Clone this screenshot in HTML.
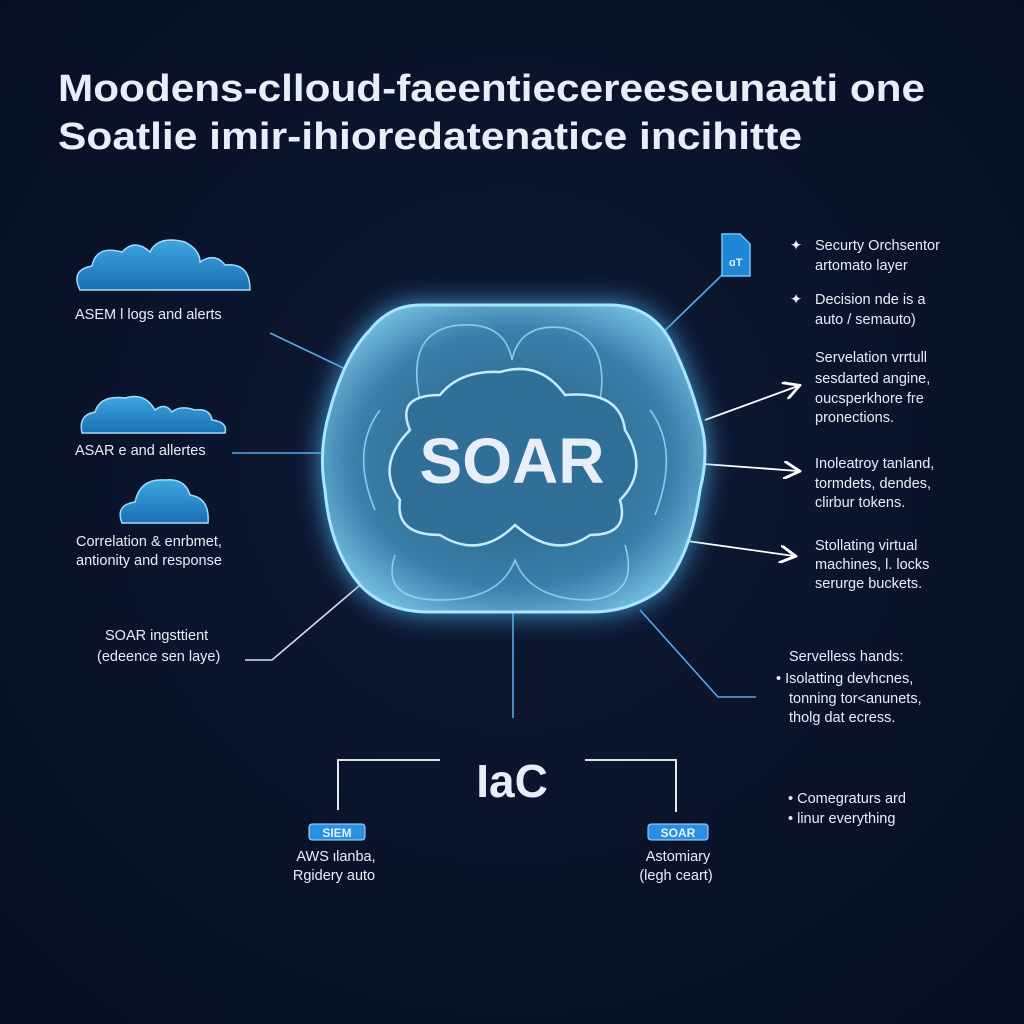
<!DOCTYPE html>
<html><head><meta charset="utf-8"><style>
html,body{margin:0;padding:0;background:#0a1430;}
svg{display:block}
text{font-family:"Liberation Sans",sans-serif;fill:#e8eef8}
</style></head><body>
<svg width="1024" height="1024" viewBox="0 0 1024 1024" xmlns="http://www.w3.org/2000/svg">
<defs>
<radialGradient id="bg" cx="50%" cy="45%" r="70%"><stop offset="0" stop-color="#0e1a36"/><stop offset="1" stop-color="#070e22"/></radialGradient>
<radialGradient id="blob" cx="50%" cy="50%" r="60%"><stop offset="0" stop-color="#245a80"/><stop offset="0.7" stop-color="#3a80aa"/><stop offset="1" stop-color="#7cc6ea"/></radialGradient>
<filter id="glow" x="-30%" y="-30%" width="160%" height="160%"><feGaussianBlur stdDeviation="14"/></filter>
<linearGradient id="cl" x1="0" y1="0" x2="0" y2="1"><stop offset="0" stop-color="#3ea6e0"/><stop offset="1" stop-color="#1b6fb3"/></linearGradient>
<marker id="ar" markerWidth="10" markerHeight="10" refX="8" refY="5" orient="auto"><path d="M0,0 L9,5 L0,10" fill="none" stroke="#fff" stroke-width="1.6"/></marker>
</defs>
<rect width="1024" height="1024" fill="url(#bg)"/>
<text x="58" y="101" font-size="38" font-weight="bold" fill="#fff" textLength="867" lengthAdjust="spacingAndGlyphs">Moodens-clloud-faeentiecereesеunaati one</text>
<text x="58" y="149" font-size="38" font-weight="bold" fill="#fff" textLength="744" lengthAdjust="spacingAndGlyphs">Soatlie imir-ihioredatenatice incihitte</text>

<g stroke="#5aa8e6" stroke-width="1.6" fill="none">
<line x1="270" y1="333" x2="358" y2="375"/>
<line x1="232" y1="453" x2="322" y2="453"/>
<polyline points="245,660 272,660 366,580" stroke="#dde"/>
<line x1="650" y1="345" x2="722" y2="275"/>
<line x1="513" y1="612" x2="513" y2="718"/>
<polyline points="640,610 718,697 756,697"/>
</g>
<g stroke="#fff" stroke-width="1.8" fill="none">
<line x1="705" y1="420" x2="798" y2="386" marker-end="url(#ar)"/>
<line x1="690" y1="463" x2="798" y2="471" marker-end="url(#ar)"/>
<line x1="680" y1="540" x2="794" y2="556" marker-end="url(#ar)"/>
<polyline points="338,810 338,760 440,760"/>
<polyline points="585,760 676,760 676,812"/>
</g>

<path d="M420,305 L610,305 Q650,305 670,340 Q690,380 700,420 Q710,450 700,490 Q690,560 660,590 Q630,612 590,612 L430,612 Q385,612 360,585 Q330,550 325,490 Q318,450 330,410 Q345,355 370,330 Q390,305 420,305 Z" fill="#4fb4ee" filter="url(#glow)" opacity="0.9"/>
<path d="M420,305 L610,305 Q650,305 670,340 Q690,380 700,420 Q710,450 700,490 Q690,560 660,590 Q630,612 590,612 L430,612 Q385,612 360,585 Q330,550 325,490 Q318,450 330,410 Q345,355 370,330 Q390,305 420,305 Z" fill="url(#blob)" stroke="#a8e6ff" stroke-width="3"/>
<g fill="none" stroke="#9ad8f6" stroke-width="1.6" opacity="0.85">
<path d="M420,400 Q405,330 460,325 Q505,322 512,360 Q520,322 565,328 Q610,340 600,400"/>
<path d="M395,555 Q380,600 440,600 Q500,600 515,560 Q530,600 590,600 Q640,595 625,545"/>
<path d="M380,410 Q350,450 375,510"/>
<path d="M650,410 Q680,450 655,515"/>
</g>
<path d="M410,430 Q395,395 440,395 Q460,370 500,372 Q540,360 565,395 Q620,390 625,430 Q650,470 620,500 Q630,535 590,535 Q555,560 515,525 Q480,560 440,535 Q395,535 400,500 Q375,465 410,430 Z" fill="#2f6f98" stroke="#c4ecff" stroke-width="2.5"/>
<text x="512" y="483" font-size="64" font-weight="bold" text-anchor="middle" fill="#fff">SOAR</text>

<g fill="url(#cl)" stroke="#9fdcff" stroke-width="1.5">
<path d="M80,290 Q70,270 92,266 Q96,245 122,252 Q135,238 150,252 Q158,235 185,242 Q200,250 200,262 Q215,252 225,265 Q250,262 250,290 Z"/>
<path d="M82,433 Q78,415 95,412 Q100,395 125,398 Q145,392 155,410 Q165,402 172,412 Q180,405 195,410 Q210,408 212,420 Q228,422 225,433 Z"/>
<path d="M122,523 Q115,505 135,502 Q140,478 165,480 Q185,478 190,495 Q210,498 208,523 Z"/>
</g>
<g font-size="14.5">
<text x="75" y="319">ASEM  l logs and alerts</text>
<text x="75" y="455">ASAR e and allertes</text>
<text x="76" y="546">Correlation &amp; enrbmet,</text>
<text x="76" y="565">antionity and response</text>
<text x="105" y="640">SOAR ingsttient</text>
<text x="97" y="661">(edeence sen laye)</text>
</g>

<path d="M722,234 L740,234 L750,244 L750,276 L722,276 Z" fill="#1f86d6" stroke="#6cc6ff" stroke-width="1.5"/>
<text x="729" y="266" font-size="11" font-weight="bold" fill="#fff">ɑT</text>

<g font-size="14.5">
<text x="790" y="250">✦</text><text x="815" y="250">Securty Orchsentor</text>
<text x="815" y="270">artomato layer</text>
<text x="790" y="304">✦</text><text x="815" y="304">Decision nde is a</text>
<text x="815" y="324">auto / semauto)</text>
<text x="815" y="362">Servelation vrrtull</text>
<text x="815" y="383">sesdarted angine,</text>
<text x="815" y="403">oucsperkhore fre</text>
<text x="815" y="422">pronections.</text>
<text x="815" y="468">Inoleatroy tanland,</text>
<text x="815" y="488">tormdets, dendes,</text>
<text x="815" y="507">clirbur tokens.</text>
<text x="815" y="550">Stollating virtual</text>
<text x="815" y="569">machines, l. locks</text>
<text x="815" y="588">serurge buckets.</text>
<text x="789" y="661">Servelless hands:</text>
<text x="776" y="683">• Isolatting devhcnes,</text>
<text x="789" y="703">tonning tor&lt;anunets,</text>
<text x="789" y="722">tholg dat ecress.</text>
<text x="788" y="803">• Comegraturs ard</text>
<text x="788" y="823">• linur everything</text>
</g>

<text x="512" y="797" font-size="46" font-weight="bold" text-anchor="middle" fill="#fff">IaC</text>
<rect x="309" y="824" width="56" height="16" rx="3" fill="#2a8fe0" stroke="#a8ddff"/>
<text x="337" y="837" font-size="12" font-weight="bold" text-anchor="middle" fill="#fff">SIEM</text>
<rect x="648" y="824" width="60" height="16" rx="3" fill="#2a8fe0" stroke="#a8ddff"/>
<text x="678" y="837" font-size="12" font-weight="bold" text-anchor="middle" fill="#fff">SOAR</text>
<g font-size="14.5" text-anchor="middle">
<text x="336" y="861">AWS ιlanba,</text>
<text x="334" y="880">Rgidery auto</text>
<text x="678" y="861">Astomiary</text>
<text x="676" y="880">(legh ceart)</text>
</g>
</svg>
</body></html>
